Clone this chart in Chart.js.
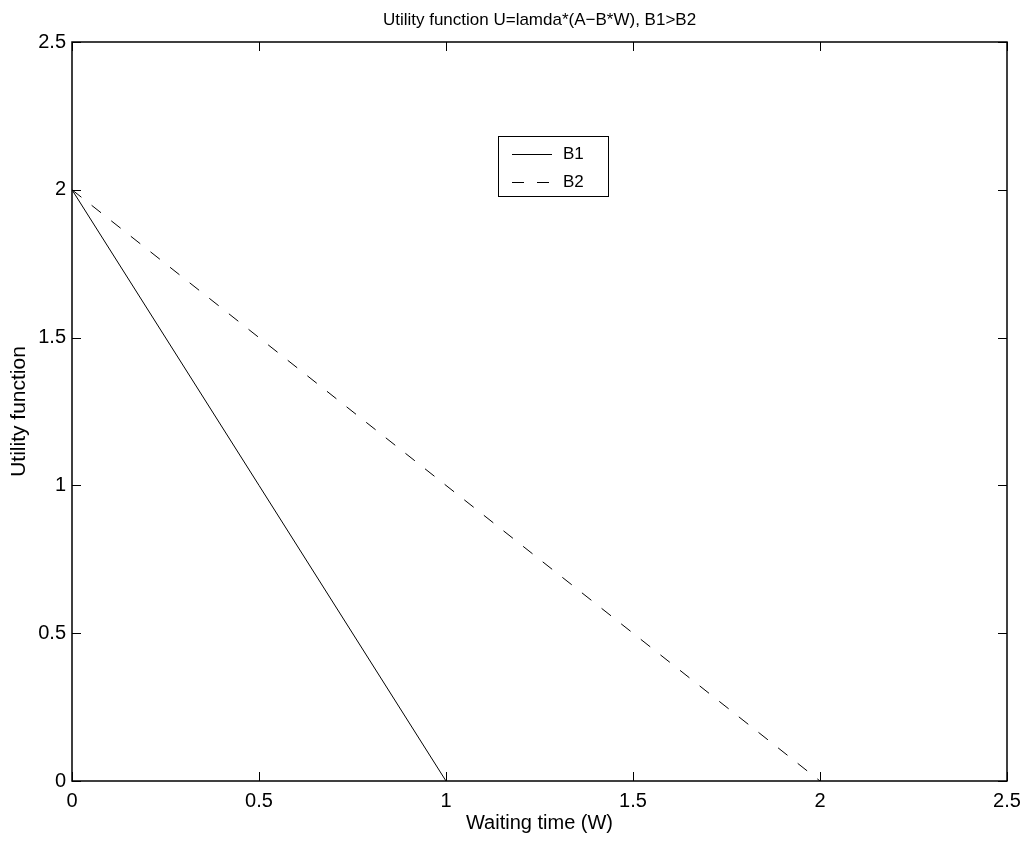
<!DOCTYPE html>
<html><head>
<title>Utility function U=lamda*(A-B*W)</title>
<script src="https://cdn.jsdelivr.net/npm/chart.js"></script>
<style>
  body { margin: 0; background: #fff; }
  #wrap { width: 1029px; height: 844px; position: relative; }
</style>
</head>
<body>
<div id="wrap"><canvas id="utilChart"></canvas></div>
<script>
const chartTitle = 'Utility function U=lamda*(A\u2212B*W), B1>B2';
const xLabel = 'Waiting time (W)';
const yLabel = 'Utility function';
const seriesNames = ['B1', 'B2'];

const waitB1 = [0, 1];
const utilB1 = [2, 0];
const waitB2 = [0, 2];
const utilB2 = [2, 0];

const xTicks = [0, 0.5, 1, 1.5, 2, 2.5];
const yTicks = [0, 0.5, 1, 1.5, 2, 2.5];

const FONT = "'Liberation Sans', Arial, sans-serif";

function toPoints(xs, ys) {
  return xs.map((x, i) => ({x: x, y: ys[i]}));
}

// box, inward tick marks on all four sides, title and legend
const framePlugin = {
  id: 'matlabFrame',
  afterDraw(chart) {
    const ctx = chart.ctx;
    const a = chart.chartArea;
    const xs = chart.scales.x, ys = chart.scales.y;
    const tick = 9;
    ctx.save();
    ctx.strokeStyle = '#000';
    ctx.lineWidth = 1;
    ctx.beginPath();
    xTicks.forEach(v => {
      const px = Math.round(xs.getPixelForValue(v)) + 0.5;
      ctx.moveTo(px, a.bottom); ctx.lineTo(px, a.bottom - tick);
      ctx.moveTo(px, a.top); ctx.lineTo(px, a.top + tick);
    });
    yTicks.forEach(v => {
      const py = Math.round(ys.getPixelForValue(v)) + 0.5;
      ctx.moveTo(a.left, py); ctx.lineTo(a.left + tick, py);
      ctx.moveTo(a.right, py); ctx.lineTo(a.right - tick, py);
    });
    ctx.stroke();

    ctx.lineWidth = 1.5;
    ctx.strokeRect(a.left, a.top, a.right - a.left, a.bottom - a.top);

    // title
    ctx.fillStyle = '#000';
    ctx.font = '17px ' + FONT;
    ctx.textAlign = 'center';
    ctx.textBaseline = 'middle';
    ctx.fillText(chartTitle, (a.left + a.right) / 2, 20);

    // legend
    const bx = 498, by = 136, bw = 110, bh = 60;
    ctx.fillStyle = '#fff';
    ctx.fillRect(bx, by, bw, bh);
    ctx.lineWidth = 1;
    ctx.strokeRect(bx + 0.5, by + 0.5, bw, bh);
    chart.data.datasets.forEach((ds, i) => {
      const ly = Math.round(154 + i * 27.5) + 0.5;
      ctx.setLineDash(ds.borderDash || []);
      ctx.beginPath();
      ctx.moveTo(512, ly); ctx.lineTo(552, ly);
      ctx.stroke();
      ctx.setLineDash([]);
      ctx.fillStyle = '#000';
      ctx.font = '17px ' + FONT;
      ctx.textAlign = 'left';
      ctx.fillText(ds.label, 563, ly);
    });
    ctx.restore();
  }
};

new Chart(document.getElementById('utilChart'), {
  type: 'scatter',
  data: {
    datasets: [
      {
        label: seriesNames[0],
        data: toPoints(waitB1, utilB1),
        showLine: true,
        borderColor: '#000',
        borderWidth: 1,
        pointRadius: 0,
        fill: false
      },
      {
        label: seriesNames[1],
        data: toPoints(waitB2, utilB2),
        showLine: true,
        borderColor: '#000',
        borderWidth: 1,
        borderDash: [12, 13],
        pointRadius: 0,
        fill: false
      }
    ]
  },
  options: {
    responsive: true,
    maintainAspectRatio: false,
    animation: false,
    layout: { padding: { top: 42, right: 22, left: 0, bottom: 0 } },
    plugins: {
      legend: { display: false },
      title: { display: false },
      tooltip: { enabled: false }
    },
    scales: {
      x: {
        type: 'linear',
        min: 0,
        max: 2.5,
        afterBuildTicks: s => { s.ticks = xTicks.map(v => ({value: v})); },
        afterFit: s => { s.height = 63; },
        grid: { display: false, drawTicks: false },
        border: { display: false },
        ticks: { color: '#000', font: { family: FONT, size: 20 }, padding: 8, maxRotation: 0, callback: v => String(v) },
        title: { display: true, text: xLabel, color: '#000', font: { family: FONT, size: 20 }, padding: { top: 0, bottom: 9 } }
      },
      y: {
        type: 'linear',
        min: 0,
        max: 2.5,
        afterBuildTicks: s => { s.ticks = yTicks.map(v => ({value: v})); },
        afterFit: s => { s.width = 72; },
        grid: { display: false, drawTicks: false },
        border: { display: false },
        ticks: { color: '#000', font: { family: FONT, size: 20 }, padding: 6, callback: v => String(v) },
        title: { display: true, text: yLabel, color: '#000', font: { family: FONT, size: 21 }, padding: { top: 7, bottom: 0 } }
      }
    }
  },
  plugins: [framePlugin]
});
</script>
</body></html>
